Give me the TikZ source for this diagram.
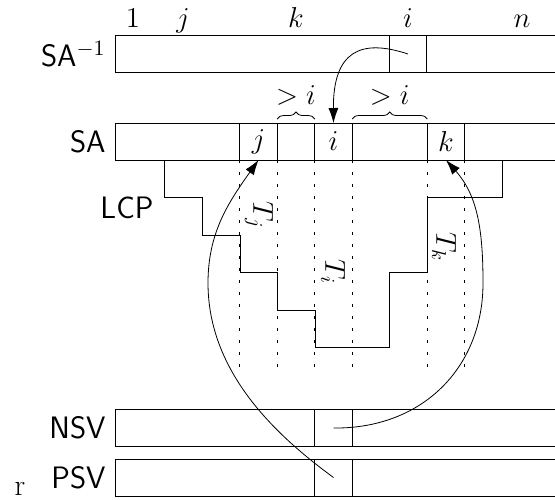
\documentclass[tikz,border=0pt]{standalone}
\usepackage{tikz}
\usetikzlibrary{arrows.meta,positioning,decorations.pathreplacing}

\begin{document}
\begin{tikzpicture}[
  x=0.5pt,y=-0.5pt,
  sym/.style={font=\fontsize{14}{17}\selectfont},
  arr/.style={draw,minimum width=227.5pt,minimum height=18.5pt,inner sep=0pt,outer sep=0pt},
  cell/.style={draw,sym,minimum width=18.75pt,minimum height=18.5pt,inner sep=0pt,outer sep=0pt},
  rowlabel/.style={font=\fontsize{15.5}{18}\selectfont\sffamily,inner sep=1pt},
  tlabel/.style={sym,rotate=-90},
  arrow/.style={-{Latex[length=7.5pt,width=5pt]}},
  guide/.style={dash pattern=on 1.5pt off 4.5pt},
  brace/.style={decorate,decoration={brace,amplitude=3.5pt}}
]
\useasboundingbox (0,0) rectangle (555,499);

% the four arrays
\node[arr] (sainv) at (342.5,54) {};
\node[arr] (sa) at (342.5,141.5) {};
\node[arr] (nsv) at (342.5,428) {};
\node[arr] (psv) at (342.5,477.5) {};

\node[rowlabel,left=3.5pt of sainv] (sainvlbl) {SA$^{-1}$};
\node[rowlabel,left=3.5pt of sa] (salbl) {SA};
\node[rowlabel,left=3.5pt of nsv] (nsvlbl) {NSV};
\node[rowlabel,left=3.5pt of psv] (psvlbl) {PSV};
\node[rowlabel] (lcplbl) at (127,208) {LCP};
\node[font=\fontsize{15}{18}\selectfont] (rlbl) at (20,489) {r};

% positions above SA^{-1}
\node[sym,anchor=base] (pos1) at (133,27) {$1$};
\node[sym,anchor=base] (posj) at (183,27) {$j$};
\node[sym,anchor=base] (posk) at (296,27) {$k$};
\node[sym,anchor=base] (posi) at (408,27) {$i$};
\node[sym,anchor=base] (posn) at (522,27) {$n$};

% cells
\node[cell] (sainvi) at (408,54) {};
\node[cell] (saj) at (258.5,141.5) {$j$};
\node[cell,right=18.75pt of saj] (sai) {$i$};
\node[cell,right=37.5pt of sai] (sak) {$k$};
\node[cell] (nsvi) at (sai |- nsv) {};
\node[cell] (psvi) at (sai |- psv) {};

\draw[brace] ([yshift=2pt]saj.north east) -- ([yshift=2pt]sai.north west)
  node[sym,midway,above=3.5pt] (gt1) {$>i$};
\draw[brace] ([yshift=2pt]sai.north east) -- ([yshift=2pt]sak.north west)
  node[sym,midway,above=3.5pt] (gt2) {$>i$};

\foreach \c in {saj,sai,sak} {
  \draw[guide] (\c.south west) -- ++(0,210);
  \draw[guide] (\c.south east) -- ++(0,210);
}

% LCP values
\draw (164,160) |- (202,197) |- (240,235) |- (277,272) |- (315,310)
  |- (389,347) |- (427,272) |- (502,197) -- (502,160);

\node[tlabel] (tj) at (259,215) {$T_j$};
\node[tlabel] (ti) at (333,272) {$T_i$};
\node[tlabel] (tk) at (444,247) {$T_k$};

\coordinate (lbend) at (208,283);
\coordinate (rbend) at (483,283);
\draw[arrow] (sainvi.center) .. controls (360,38) and (333,52) .. (sai.north);
\draw[arrow] (psvi.center) .. controls (277,436) and (208,373) .. (lbend)
  .. controls (208,233) and (228,203) .. (saj.south);
\draw[arrow] (nsvi.center) .. controls (422,429) and (483,368) .. (rbend)
  .. controls (483,228) and (477,195) .. (sak.south);
\end{tikzpicture}
\end{document}
